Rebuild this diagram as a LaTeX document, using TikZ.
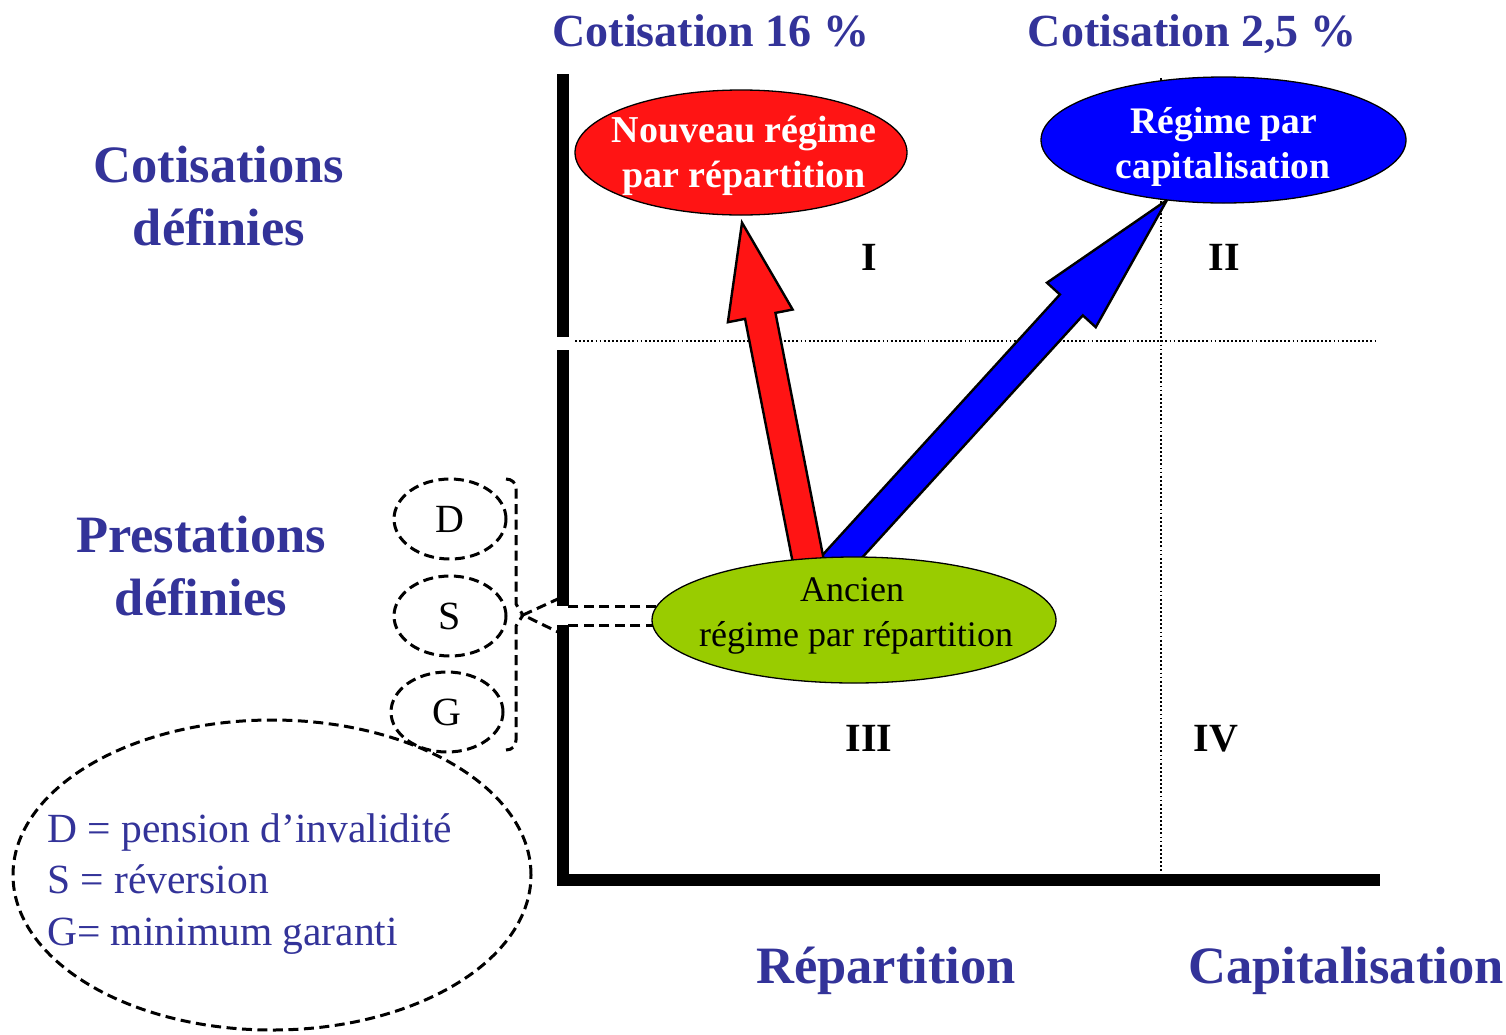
\documentclass[tikz,border=0pt]{standalone}
\usepackage{fontspec}
\setmainfont{Liberation Serif}
\usetikzlibrary{shapes.geometric,calc}
\definecolor{tblue}{HTML}{333399}
\definecolor{rred}{HTML}{FF1414}
\definecolor{bblue}{HTML}{0000FF}
\definecolor{ggreen}{HTML}{99CC00}
\pgfdeclarelayer{back}
\pgfsetlayers{back,main}
\begin{document}
\begin{tikzpicture}[x=1pt,y=-1pt,
  axisline/.style={line width=12pt},
  dotline/.style={line width=1.8pt, dash pattern=on 1.8pt off 2.3pt},
  dashtwo/.style={line width=3pt, dash pattern=on 10pt off 5.5pt},
  regime/.style={ellipse, draw=black, line width=1.3pt, inner sep=0pt},
  intext/.style={anchor=base, inner sep=0pt},
  toptitle/.style={text=tblue, anchor=base, inner sep=0pt, font=\bfseries\fontsize{46}{50}\selectfont},
  biglab/.style={text=tblue, inner sep=0pt, font=\bfseries\fontsize{52.5}{63}\selectfont, align=center},
  quadlab/.style={anchor=base, inner sep=0pt, font=\bfseries\fontsize{40}{44}\selectfont},
  letterbox/.style={ellipse, dashtwo, draw, minimum width=112pt, minimum height=80pt, inner sep=0pt, font=\fontsize{40}{44}\selectfont},
  legtext/.style={text=tblue, anchor=base west, inner sep=0pt, font=\fontsize{41.5}{44}\selectfont},
  blockarrow/.style={draw=black, line width=2.4pt, line join=miter},
]
\useasboundingbox (0,0) rectangle (1506,1034);

% ellipses (nodes)
\node[regime, fill=ggreen, minimum width=404pt, minimum height=126pt] (old) at (854,620) {};
\node[regime, fill=rred, minimum width=332pt, minimum height=125pt] (new) at (741,152.5) {};
\node[regime, fill=bblue, minimum width=365pt, minimum height=126pt] (cap) at (1223.5,140) {};

\node[intext, font=\fontsize{36}{45}\selectfont] (old1) at (852,601) {Ancien};
\node[intext, font=\fontsize{36}{45}\selectfont] (old2) at (856,646) {régime par répartition};
\node[intext, text=white, font=\bfseries\fontsize{38}{44}\selectfont] (new1) at (744,142) {Nouveau régime};
\node[intext, text=white, font=\bfseries\fontsize{38}{44}\selectfont] (new2) at (744,187) {par répartition};
\node[intext, text=white, font=\bfseries\fontsize{37.5}{44}\selectfont] (cap1) at (1224,133) {Régime par};
\node[intext, text=white, font=\bfseries\fontsize{37.5}{44}\selectfont] (cap2) at (1223,178) {capitalisation};

\begin{pgfonlayer}{back}
  % axes
  \draw[axisline] (563,74) -- (563,337);
  \draw[axisline] (563,350) -- (563,606);
  \draw[axisline] (563,625) -- (563,886);
  \draw[axisline] (557,880) -- (1380,880);
  % dotted separators
  \draw[dotline] (575,341) -- (1375,341);
  \draw[dotline] (1161,78) -- (1161,872);
  % hollow dashed arrow from old regime to S
  \coordinate (hT) at (523,615);
  \draw[dashtwo] ($(old.west)+(20,-14)$) -- (566,606);
  \draw[dashtwo] ($(old.west)+(20,5)$) -- (566,625);
  \draw[dashtwo] (560,598) -- (hT) -- (560,633);
  % blue block arrow
  \coordinate (bS) at ($(old.center)+(-26,-48)$);
  \coordinate (bT) at ($(cap.center)+(-56.5,60)$);
  \coordinate (bH) at ($(bT)!142pt!(bS)$);
  \draw[blockarrow, fill=bblue] ($(bS)!15.5pt!90:(bT)$) -- ($(bH)!15.5pt!90:(bT)$) -- ($(bH)!33pt!90:(bT)$) -- (bT)
     -- ($(bH)!33pt!-90:(bT)$) -- ($(bH)!15.5pt!-90:(bT)$) -- ($(bS)!15.5pt!-90:(bT)$) -- cycle;
  % red block arrow
  \coordinate (rS) at ($(old.center)+(-43,-45)$);
  \coordinate (rT) at ($(new.south)+(1,7)$);
  \coordinate (rH) at ($(rT)!95pt!(rS)$);
  \draw[blockarrow, fill=rred] ($(rS)!15.5pt!90:(rT)$) -- ($(rH)!15.5pt!90:(rT)$) -- ($(rH)!33pt!90:(rT)$) -- (rT)
     -- ($(rH)!33pt!-90:(rT)$) -- ($(rH)!15.5pt!-90:(rT)$) -- ($(rS)!15.5pt!-90:(rT)$) -- cycle;
\end{pgfonlayer}

% titles
\node[toptitle] (t16) at (711,46) {Cotisation 16 \%};
\node[toptitle] (t25) at (1192,46) {Cotisation 2,5 \%};
\node[biglab] (cd) at (219,196) {Cotisations\\définies};
\node[biglab] (pd) at (201,566) {Prestations\\définies};
\node[biglab, anchor=base] (rep) at (886,983) {Répartition};
\node[biglab, anchor=base] (capl) at (1346,983) {Capitalisation};

% quadrants
\node[quadlab] (q1) at (869,270) {I};
\node[quadlab] (q2) at (1224,270) {II};
\node[quadlab] (q3) at (869,751) {III};
\node[quadlab] (q4) at (1216,751) {IV};

% letters
\node[letterbox] (D) at (450,519) {D};
\node[letterbox] (S) at (450,616) {S};
\node[letterbox] (G) at (447,712) {G};

% brace
\draw[dashtwo] (506,479) .. controls (512,479) and (516,483) .. (516,489) -- (516,604) -- (hT) -- (516,626)
   -- (516,740) .. controls (516,746) and (512,750) .. (506,750);

% legend
\node[ellipse, dashtwo, draw, minimum width=518pt, minimum height=310pt, inner sep=0pt] (leg) at (272,875) {};
\node[legtext] (lD) at (47,842) {D = pension d’invalidité};
\node[legtext] (lS) at (47,893) {S = réversion};
\node[legtext] (lG) at (47,945) {G= minimum garanti};
\end{tikzpicture}
\end{document}
